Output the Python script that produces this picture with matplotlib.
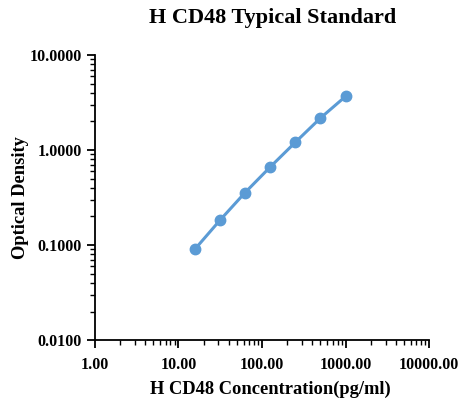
import matplotlib
matplotlib.use("Agg")
import matplotlib.pyplot as plt
from matplotlib.ticker import LogLocator, FixedLocator, FuncFormatter, NullFormatter

conc = [15.625, 31.25, 62.5, 125, 250, 500, 1000]
od = [0.090, 0.182, 0.356, 0.662, 1.205, 2.17, 3.67]
x_ticks = [1, 10, 100, 1000, 10000]
y_ticks = [0.01, 0.1, 1, 10]

plt.rcParams['font.family'] = ['Liberation Serif', 'DejaVu Serif']
plt.rcParams['font.weight'] = 'bold'

fig = plt.figure(figsize=(4.63, 4.04), dpi=100)
ax = fig.add_axes([0.205, 0.158, 0.722, 0.706])
color = '#5b9bd5'
ax.plot(conc, od, color=color, lw=2.2, marker='o', ms=7.5, mfc=color, mec=color, zorder=3)
ax.set_xscale('log')
ax.set_yscale('log')
ax.set_xlim(1, 10000)
ax.set_ylim(0.01, 10)
ax.xaxis.set_major_locator(FixedLocator(x_ticks))
ax.yaxis.set_major_locator(FixedLocator(y_ticks))
ax.xaxis.set_minor_locator(LogLocator(base=10, subs=range(2, 10)))
ax.yaxis.set_minor_locator(LogLocator(base=10, subs=range(2, 10)))
ax.xaxis.set_minor_formatter(NullFormatter())
ax.yaxis.set_minor_formatter(NullFormatter())
ax.xaxis.set_major_formatter(FuncFormatter(lambda v, p: f"{v:.2f}"))
ax.yaxis.set_major_formatter(FuncFormatter(lambda v, p: f"{v:.4f}"))
for s in ['top', 'right']:
    ax.spines[s].set_visible(False)
for s in ['left', 'bottom']:
    ax.spines[s].set_linewidth(1.3)
ax.tick_params(which='major', direction='out', length=6, width=1.3, labelsize=11.5)
ax.tick_params(axis='x', which='major', pad=6)
ax.tick_params(which='minor', direction='out', length=3.5, width=1.0)
for lbl in ax.get_xticklabels() + ax.get_yticklabels():
    lbl.set_fontweight('bold')
ax.set_xlabel('H CD48 Concentration(pg/ml)', fontsize=13.3, fontweight='bold', labelpad=5.5, x=0.524)
ax.set_ylabel('Optical Density', fontsize=13.3, fontweight='bold', labelpad=0.5)
fig.text(0.588, 0.955, 'H CD48 Typical Standard', ha='center', va='center', fontsize=16, fontweight='bold')
fig.savefig('out.png', dpi=100)
